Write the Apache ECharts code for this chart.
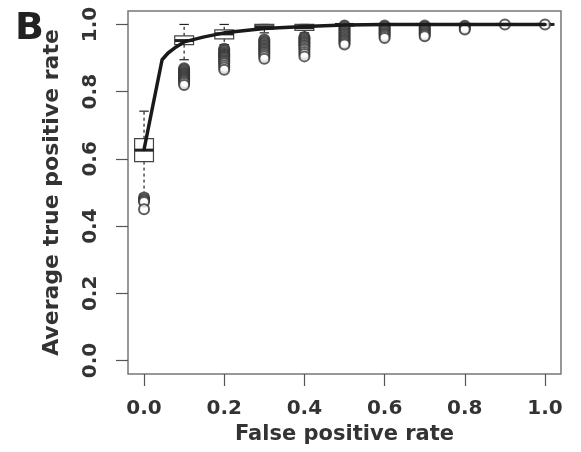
<!DOCTYPE html>
<html>
<head>
<meta charset="utf-8">
<script src="https://cdn.jsdelivr.net/npm/echarts@6/dist/echarts.min.js"></script>
<style>
  html, body { margin: 0; padding: 0; background: #fff; }
  #chart { width: 581px; height: 452px; }
</style>
</head>
<body>
<div id="chart"></div>
<script>
// tick labels
const tickValues = [0, 0.2, 0.4, 0.6, 0.8, 1.0]

// box positions (false positive rate) and five-number summaries
const boxX = [0, 0.1, 0.2, 0.3, 0.4, 0.5, 0.6, 0.7, 0.8, 0.9, 1.0]
const whiskerLow = [0.495, 0.895, 0.94, 0.975, 0.975, 0.99, 1, 1, 1, 1, 1]
const q1 = [0.592, 0.94, 0.957, 0.986, 0.982, 0.995, 1, 1, 1, 1, 1]
const medians = [0.626, 0.952, 0.972, 0.993, 0.99, 1, 1, 1, 1, 1, 1]
const q3 = [0.66, 0.966, 0.984, 1, 1, 1, 1, 1, 1, 1, 1]
const whiskerHigh = [0.742, 1, 1, 1, 1, 1, 1, 1, 1, 1, 1]

// outliers per box
const outliers = [
    [0.485, 0.48, 0.476, 0.472, 0.45],
    [0.87, 0.866, 0.862, 0.858, 0.855, 0.852, 0.849, 0.846, 0.843, 0.84, 0.837, 0.834, 0.83, 0.826, 0.82],
    [0.928, 0.924, 0.92, 0.916, 0.912, 0.909, 0.906, 0.903, 0.9, 0.896, 0.892, 0.888, 0.884, 0.878, 0.872, 0.865],
    [0.955, 0.951, 0.947, 0.943, 0.939, 0.935, 0.931, 0.927, 0.923, 0.919, 0.915, 0.91, 0.905, 0.898],
    [0.963, 0.959, 0.955, 0.951, 0.947, 0.943, 0.939, 0.935, 0.93, 0.925, 0.918, 0.912, 0.905],
    [0.997, 0.993, 0.989, 0.985, 0.981, 0.977, 0.973, 0.969, 0.965, 0.961, 0.957, 0.953, 0.949, 0.945, 0.94],
    [0.997, 0.993, 0.989, 0.985, 0.981, 0.977, 0.973, 0.969, 0.965, 0.96],
    [0.997, 0.993, 0.989, 0.985, 0.981, 0.977, 0.973, 0.969, 0.965],
    [0.996, 0.992, 0.988, 0.985],
    [1.0],
    [1.0]
]

// average ROC curve
const curveX = [0, 0.045, 0.06, 0.08, 0.1, 0.15, 0.2, 0.3, 0.4, 0.5, 0.6, 0.7, 0.8, 0.9, 1.0]
const curveY = [0.628, 0.895, 0.915, 0.933, 0.948, 0.963, 0.975, 0.988, 0.994, 0.998, 1, 1, 1, 1, 1]

const boxData = boxX.map((x, i) => [x, whiskerLow[i], q1[i], medians[i], q3[i], whiskerHigh[i]])
const outlierData = []
outliers.forEach((list, i) => {
    list.forEach(v => outlierData.push([boxX[i], v]))
})
const curveData = curveX.map((x, i) => [x, curveY[i]])

const textColor = '#333'
const fontFam = '"DejaVu Sans", sans-serif'

const renderBox = (params, api) => {
    const x = api.value(0)
    const pLow = api.coord([x, api.value(1)])
    const pQ1 = api.coord([x, api.value(2)])
    const pMed = api.coord([x, api.value(3)])
    const pQ3 = api.coord([x, api.value(4)])
    const pHigh = api.coord([x, api.value(5)])
    const w = api.size([0.047, 0])[0]
    const capW = w * 0.5
    const cx = pMed[0]
    const dashed = { stroke: '#222', lineWidth: 1.2, lineDash: [3, 3] }
    const solid = { stroke: '#222', lineWidth: 1.2 }
    return {
        type: 'group',
        children: [
            { type: 'line', shape: { x1: cx, y1: pQ1[1], x2: cx, y2: pLow[1] }, style: dashed },
            { type: 'line', shape: { x1: cx, y1: pQ3[1], x2: cx, y2: pHigh[1] }, style: dashed },
            { type: 'line', shape: { x1: cx - capW / 2, y1: pLow[1], x2: cx + capW / 2, y2: pLow[1] }, style: solid },
            { type: 'line', shape: { x1: cx - capW / 2, y1: pHigh[1], x2: cx + capW / 2, y2: pHigh[1] }, style: solid },
            { type: 'rect', shape: { x: cx - w / 2, y: pQ3[1], width: w, height: pQ1[1] - pQ3[1] }, style: { fill: 'none', stroke: '#444', lineWidth: 1.2 } },
            { type: 'line', shape: { x1: cx - w / 2, y1: pMed[1], x2: cx + w / 2, y2: pMed[1] }, style: { stroke: '#222', lineWidth: 3 } }
        ]
    }
}

const chart = echarts.init(document.getElementById('chart'), null, { renderer: 'canvas' })

const option = {
    animation: false,
    title: {
        text: 'B',
        left: 10,
        top: 5,
        textStyle: { fontSize: 38, fontWeight: 'bold', color: '#222', fontFamily: fontFam }
    },
    grid: {
        left: 128, right: 20, top: 11, bottom: 78,
        show: true, borderColor: '#777', borderWidth: 1.5, backgroundColor: 'transparent'
    },
    xAxis: {
        type: 'value',
        min: -0.04, max: 1.04,
        name: 'False positive rate',
        nameLocation: 'middle',
        nameGap: 47,
        nameTextStyle: { fontSize: 21, fontWeight: 'bold', color: textColor, fontFamily: fontFam },
        axisLine: { show: false, onZero: false },
        splitLine: { show: false },
        axisTick: { show: true, length: 12, lineStyle: { color: '#555', width: 1.2 }, customValues: tickValues },
        axisLabel: {
            margin: 25, fontSize: 20, fontWeight: 'bold', color: textColor, fontFamily: fontFam,
            customValues: tickValues, formatter: v => v.toFixed(1)
        }
    },
    yAxis: {
        type: 'value',
        min: -0.04, max: 1.04,
        name: 'Average true positive rate',
        nameLocation: 'middle',
        nameRotate: 90,
        nameGap: 65,
        nameTextStyle: { fontSize: 22, fontWeight: 'bold', color: textColor, fontFamily: fontFam },
        axisLine: { show: false, onZero: false },
        splitLine: { show: false },
        axisTick: { show: true, length: 12, lineStyle: { color: '#555', width: 1.2 }, customValues: tickValues },
        axisLabel: {
            rotate: 90, margin: 27, fontSize: 20, fontWeight: 'bold', color: textColor, fontFamily: fontFam,
            customValues: tickValues, formatter: v => v.toFixed(1)
        }
    },
    series: [
        {
            type: 'custom',
            renderItem: renderBox,
            data: boxData,
            encode: { x: 0, y: [1, 2, 3, 4, 5] },
            z: 2
        },
        {
            type: 'scatter',
            data: outlierData,
            symbol: 'emptyCircle',
            symbolSize: 10,
            itemStyle: { color: '#333', borderWidth: 1.2 },
            z: 3
        },
        {
            type: 'line',
            data: curveData,
            showSymbol: false,
            lineStyle: { color: '#1a1a1a', width: 3.5, cap: 'round', join: 'round' },
            z: 4
        }
    ]
}

chart.setOption(option)
</script>
</body>
</html>
